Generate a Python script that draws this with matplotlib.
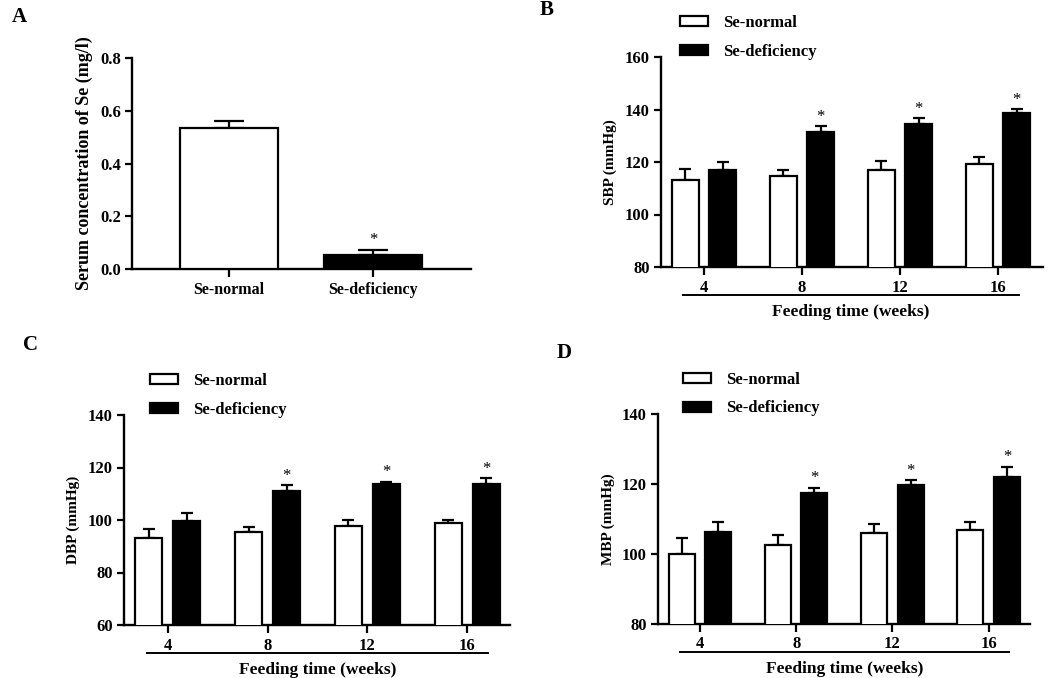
import numpy as np
import matplotlib.pyplot as plt
from matplotlib.patches import Patch

plt.rcParams['font.family'] = ['Liberation Serif', 'DejaVu Serif']
plt.rcParams['font.weight'] = 'bold'

W, H = 1050, 678

# Panel A
groups_a = ["Se-normal", "Se-deficiency"]
se_a = [0.533, 0.053]
se_a_err = [0.027, 0.020]
sig_a = [False, True]

# Panels B-D
weeks = ["4", "8", "12", "16"]
sbp_normal = [113.0, 114.6, 117.1, 119.1]
sbp_normal_err = [4.2, 2.5, 3.4, 2.7]
sbp_def = [116.8, 131.6, 134.4, 138.5]
sbp_def_err = [3.1, 2.1, 2.3, 1.6]

dbp_normal = [93.3, 95.5, 97.9, 98.7]
dbp_normal_err = [3.3, 1.9, 2.2, 1.4]
dbp_def = [99.8, 111.2, 113.6, 113.6]
dbp_def_err = [2.8, 2.1, 1.0, 2.4]

mbp_normal = [100.1, 102.6, 105.9, 106.9]
mbp_normal_err = [4.5, 2.8, 2.7, 2.2]
mbp_def = [106.2, 117.5, 119.8, 122.1]
mbp_def_err = [2.9, 1.5, 1.3, 2.9]

sig_weeks = [False, True, True, True]

fig = plt.figure(figsize=(W / 100, H / 100), dpi=100)


def px_axes(l, t, r, b):
    return fig.add_axes([l / W, 1 - b / H, (r - l) / W, (b - t) / H])


def style_axes(ax):
    for s in ["top", "right"]:
        ax.spines[s].set_visible(False)
    for s in ["left", "bottom"]:
        ax.spines[s].set_linewidth(1.7)
    ax.tick_params(axis="both", width=1.6, length=5, labelsize=12, pad=3)
    ax.tick_params(axis="x", length=6)
    for lab in ax.get_xticklabels() + ax.get_yticklabels():
        lab.set_fontweight("bold")


def add_star(ax, x, top):
    ax.annotate("*", (x, top), xytext=(0, 1), textcoords="offset points",
                ha="center", va="bottom", fontsize=12, fontweight="normal")


def bp_panel(box, ylab, ylim, yticks, normal, normal_err, deficient, deficient_err,
             xlim, leg_pos, letter, letter_pos, ylab_x):
    l, t, r, b = box
    ax = px_axes(l, t, r, b)
    x = np.arange(len(weeks))
    off, w = 0.19, 0.27
    ax.bar(x - off, normal, w, color="white", edgecolor="black", linewidth=1.6, zorder=3)
    ax.bar(x + off, deficient, w, color="black", edgecolor="black", linewidth=1.6, zorder=3)
    ax.errorbar(x - off, normal, yerr=[np.zeros(len(x)), normal_err], fmt="none",
                ecolor="black", elinewidth=1.6, capsize=4.5, capthick=1.6, zorder=2)
    ax.errorbar(x + off, deficient, yerr=[np.zeros(len(x)), deficient_err], fmt="none",
                ecolor="black", elinewidth=1.6, capsize=4.5, capthick=1.6, zorder=2)
    for i in range(len(x)):
        if sig_weeks[i]:
            add_star(ax, x[i] + off, deficient[i] + deficient_err[i])
    ax.set_xlim(*xlim)
    ax.set_ylim(*ylim)
    ax.set_yticks(yticks)
    ax.set_xticks(x)
    ax.set_xticklabels(weeks)
    style_axes(ax)
    ax.set_ylabel(ylab, fontsize=11, fontweight="bold")
    ax.yaxis.set_label_coords(-ylab_x / (r - l), 0.5)
    hgt = b - t
    tr = ax.get_xaxis_transform()
    ax.plot([x[0] - 0.21, x[-1] + 0.21], [-28 / hgt, -28 / hgt], color="black",
            linewidth=1.4, transform=tr, clip_on=False)
    ax.text((x[0] + x[-1]) / 2, -45 / hgt, "Feeding time (weeks)", transform=tr,
            ha="center", va="center", fontsize=12.5, fontweight="bold")
    handles = [Patch(facecolor="white", edgecolor="black", linewidth=1.6),
               Patch(facecolor="black", edgecolor="black", linewidth=1.6)]
    lx, ly = leg_pos
    ax.legend(handles, ["Se-normal", "Se-deficiency"], loc="upper left",
              bbox_to_anchor=((lx - l) / (r - l), 1 + (t - ly) / hgt),
              frameon=False, borderpad=0, borderaxespad=0, handlelength=1.7,
              handleheight=0.55, handletextpad=0.9, labelspacing=0.75,
              prop={"size": 12, "weight": "bold"})
    fig.text(letter_pos[0] / W, 1 - letter_pos[1] / H, letter, fontsize=15,
             fontweight="bold", ha="left", va="center")
    return ax


# Panel A
axa = px_axes(132, 58, 471, 269)
xa = np.arange(len(groups_a))
axa.bar(xa, se_a, 0.68, color=["white", "black"], edgecolor="black", linewidth=1.6, zorder=3)
axa.errorbar(xa, se_a, yerr=[np.zeros(len(xa)), se_a_err], fmt="none", ecolor="black",
             elinewidth=1.6, capsize=11, capthick=1.6, zorder=2)
for i in range(len(xa)):
    if sig_a[i]:
        add_star(axa, xa[i], se_a[i] + se_a_err[i])
axa.set_xlim(-0.674, 1.68)
axa.set_ylim(0, 0.8)
axa.set_yticks(np.arange(0, 0.81, 0.2))
axa.set_yticklabels([f"{v:.1f}" for v in np.arange(0, 0.81, 0.2)])
axa.set_xticks(xa)
axa.set_xticklabels(groups_a)
style_axes(axa)
axa.tick_params(axis="x", labelsize=11.5)
axa.set_ylabel("Serum concentration of Se (mg/l)", fontsize=13, fontweight="bold")
axa.yaxis.set_label_coords(-39 / (471 - 132), 0.5)
fig.text(12 / W, 1 - 17 / H, "A", fontsize=15, fontweight="bold", ha="left", va="center")

bp_panel((661, 57, 1043, 267), "SBP (mmHg)", (80, 160), np.arange(80, 161, 20),
         sbp_normal, sbp_normal_err, sbp_def, sbp_def_err, (-0.439, 3.459),
         (680, 15), "B", (540, 10), 44)
bp_panel((124, 415, 510, 625), "DBP (mmHg)", (60, 140), np.arange(60, 141, 20),
         dbp_normal, dbp_normal_err, dbp_def, dbp_def_err, (-0.44, 3.43),
         (150, 373), "C", (23, 345), 44)
bp_panel((658, 414, 1030, 624), "MBP (mmHg)", (80, 140), np.arange(80, 141, 20),
         mbp_normal, mbp_normal_err, mbp_def, mbp_def_err, (-0.436, 3.43),
         (683, 372), "D", (557, 353), 43)

fig.savefig("out.png", dpi=100)
